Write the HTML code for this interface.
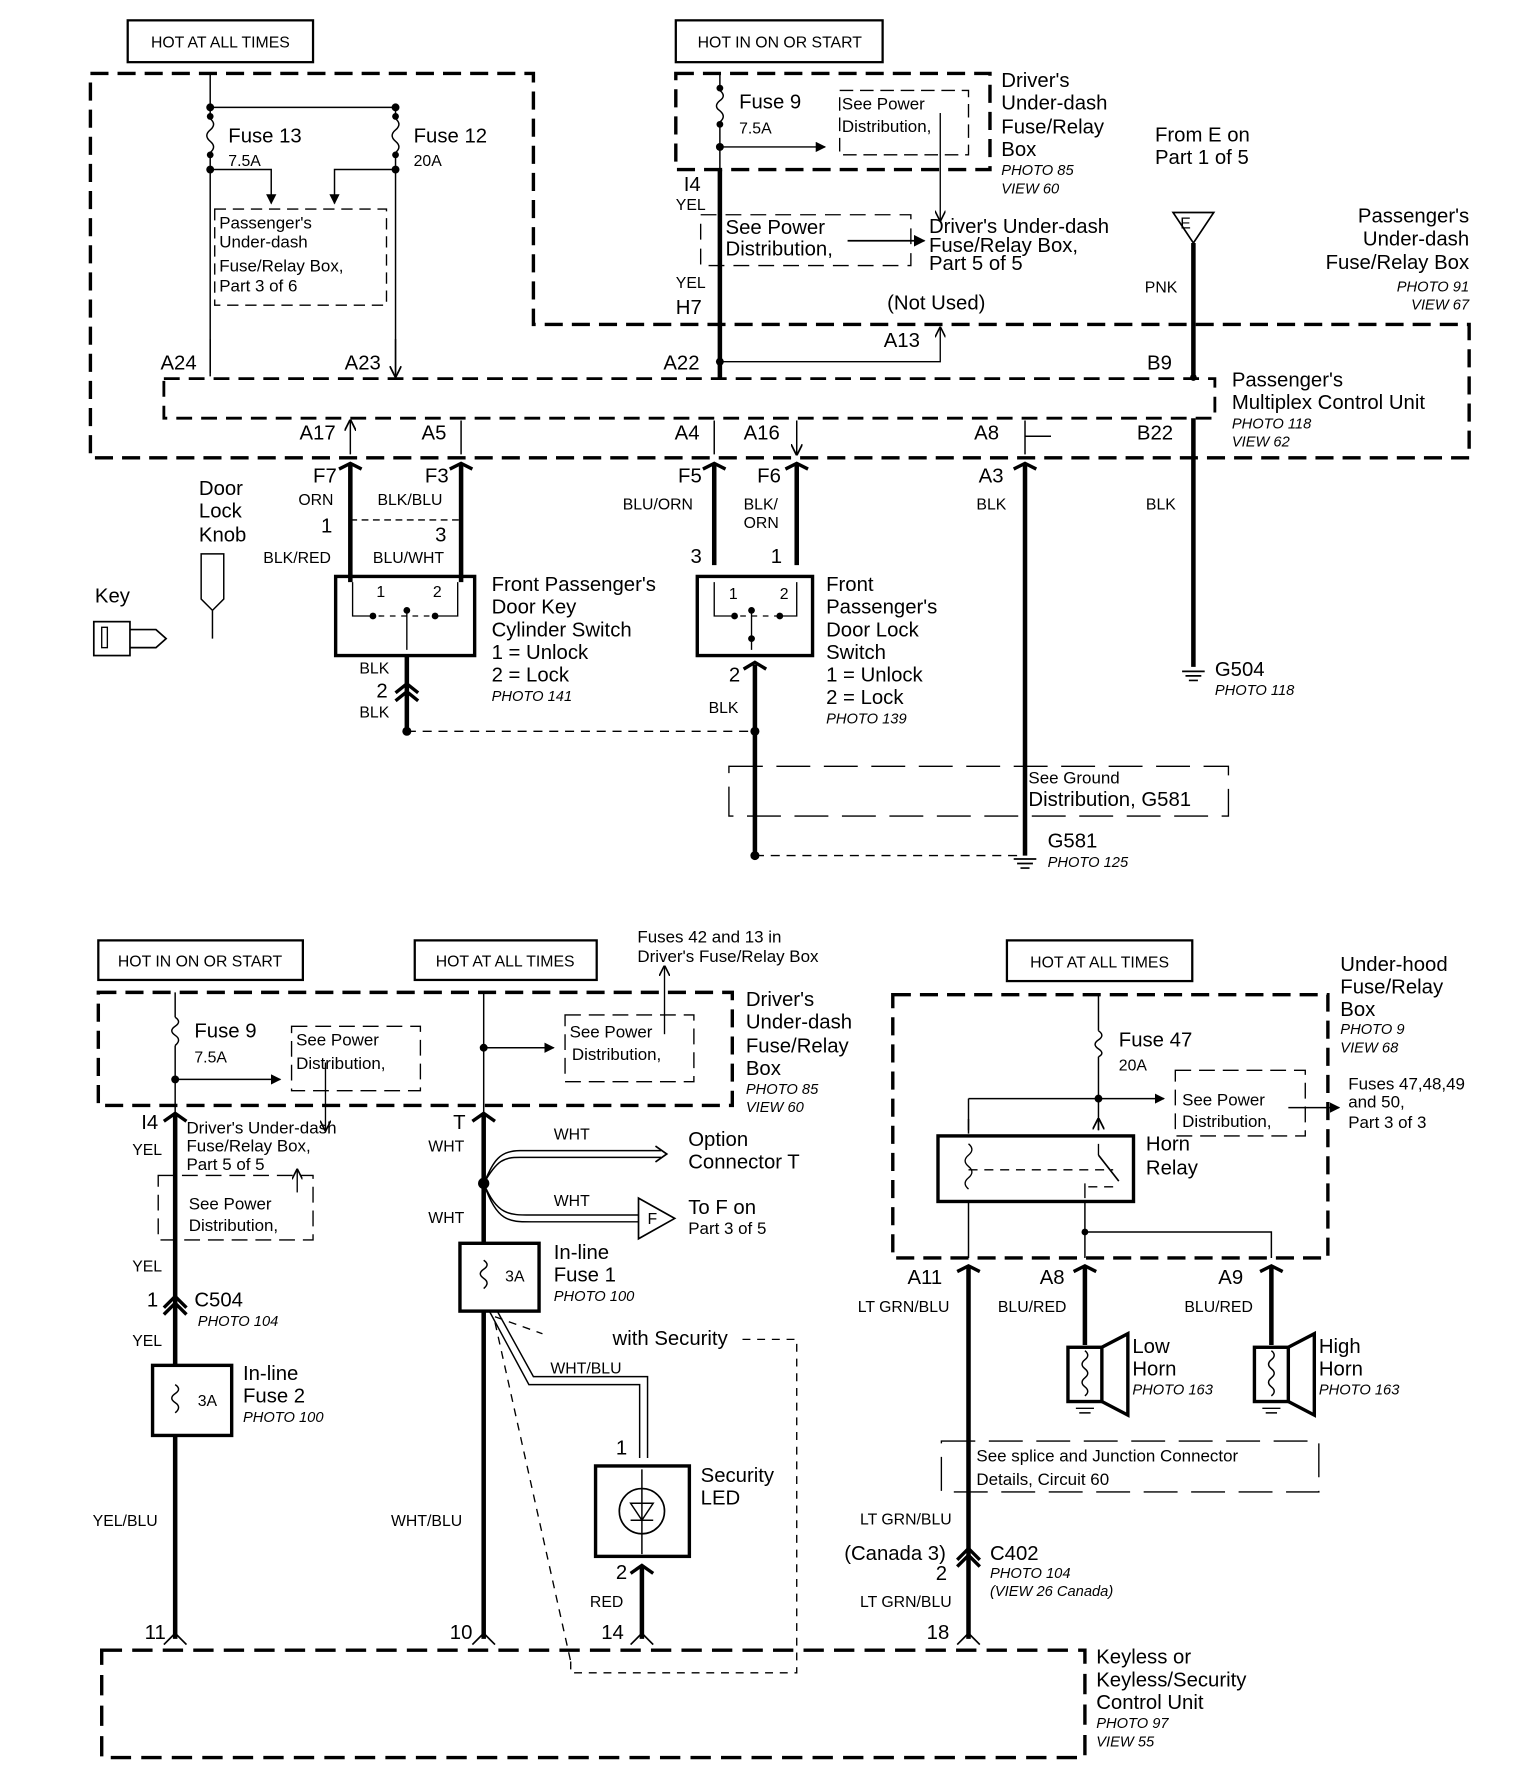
<!DOCTYPE html>
<html><head><meta charset="utf-8"><style>
html,body{margin:0;padding:0;background:#fff}
svg{display:block}
text{font-family:"Liberation Sans",sans-serif;fill:#000}
.b{font-size:18px}
.s{font-size:14px}
.p{font-size:13px;font-style:italic}
.m{font-size:15px}
</style></head><body>
<svg width="1520" height="1770" viewBox="0 0 1345 1566" preserveAspectRatio="none" xmlns="http://www.w3.org/2000/svg">
<defs>
<marker id="ah" viewBox="0 0 10 10" refX="9" refY="5" markerWidth="7" markerHeight="7" orient="auto"><path d="M0,0 L10,5 L0,10 z" fill="#000"/></marker>
<marker id="oa" viewBox="0 0 10 10" refX="9" refY="5" markerWidth="8" markerHeight="8" orient="auto-start-reverse"><path d="M0,0 L10,5 L0,10" fill="none" stroke="#000" stroke-width="1.5"/></marker>
</defs>
<g fill="none" stroke="#000">
<rect x="113" y="18" width="164" height="37" stroke-width="2"/>
<rect x="598" y="18" width="183" height="37" stroke-width="2"/>
<path d="M80,65 H472 V287 H1300 V405 H80 Z" stroke-width="3" stroke-dasharray="16,8"/>
<rect x="598" y="65" width="278" height="85" stroke-width="3" stroke-dasharray="16,8"/>
<path d="M186,65 V105 M186,135 V330 M350,95 V105 M350,135 V330 M186,95 H350" stroke-width="1.3"/>
<path d="M186,105 q6,5 0,10 q-6,5 0,10 q6,5 0,10 M350,105 q6,5 0,10 q-6,5 0,10 q6,5 0,10" stroke-width="1.3"/>
<path d="M186,150 H240 V180" stroke-width="1.3" marker-end="url(#ah)"/>
<path d="M350,150 H296 V180" stroke-width="1.3" marker-end="url(#ah)"/>
<rect x="190" y="185" width="152" height="85" stroke-width="1.2" stroke-dasharray="10,6"/>
<path d="M186,300 V333 M350,300 V333" stroke-width="1.3" marker-end="url(#oa)"/>
<path d="M637,65 V80 M637,108 V150" stroke-width="1.3"/>
<path d="M637,80 q6,5 0,9 q-6,5 0,9 q6,5 0,10" stroke-width="1.3"/>
<path d="M637,130 H730" stroke-width="1.3" marker-end="url(#ah)"/>
<rect x="743" y="80" width="114" height="57" stroke-width="1.2" stroke-dasharray="12,6"/>
<path d="M832,100 V195" stroke-width="1.2" marker-end="url(#oa)"/>
<path d="M637,150 V335" stroke-width="4"/>
<rect x="620" y="190" width="186" height="45" stroke-width="1.2" stroke-dasharray="14,8"/>
<path d="M750,213 H818" stroke-width="1.5" marker-end="url(#ah)"/>
<path d="M637,320 H832 V290" stroke-width="1.2" marker-end="url(#oa)"/>
<path d="M1038,188 H1074 L1056,215 Z" stroke-width="1.5"/>
<path d="M1056,215 V335" stroke-width="4"/>
<rect x="145" y="335" width="930" height="35" stroke-width="2.5" stroke-dasharray="14,8"/>
<path d="M310,372 V402 M408,372 V402 M632,372 V402 M705,372 V402" stroke-width="1.3" marker-start="url(#oa)" marker-end="url(#oa)"/>
<path d="M907,372 V402 M907,386 H930" stroke-width="1.3"/>
<path d="M310,410 V515 M408,410 V515 M632,410 V500 M705,410 V500 M907,410 V757 M1056,370 V590" stroke-width="4"/>
<path d="M300,415 L310,410 L320,415 M398,415 L408,410 L418,415 M622,415 L632,410 L642,415 M695,415 L705,410 L715,415 M897,415 L907,410 L917,415" stroke-width="3"/>
<path d="M310,460 H408" stroke-width="1.3" stroke-dasharray="6,4"/>
<rect x="297" y="510" width="123" height="70" stroke-width="3"/>
<path d="M312,515 V545 H330 M405,515 V545 H385 M360,540 V575" stroke-width="1.2"/>
<path d="M335,545 H385" stroke-width="1.2" stroke-dasharray="5,5"/>
<path d="M360,580 V645" stroke-width="4"/>
<path d="M350,613 L360,605 L370,613 M350,620 L360,612 L370,620" stroke-width="3"/>
<path d="M360,647 H668" stroke-width="1.2" stroke-dasharray="8,6"/>
<rect x="617" y="510" width="102" height="70" stroke-width="3"/>
<path d="M632,515 V545 H650 M705,515 V545 H690 M665,540 V575" stroke-width="1.2"/>
<path d="M655,545 H690" stroke-width="1.2" stroke-dasharray="5,5"/>
<path d="M668,588 V757" stroke-width="4"/>
<path d="M658,592 L668,586 L678,592" stroke-width="3"/>
<path d="M668,757 H900" stroke-width="1.2" stroke-dasharray="8,6"/>
<rect x="645" y="678" width="442" height="44" stroke-width="1.2" stroke-dasharray="30,12"/>
<path d="M897,760 H917 M900,764 H914 M903,768 H911 M1046,594 H1066 M1049,598 H1063 M1052,602 H1060" stroke-width="1.5"/>
<rect x="83" y="550" width="32" height="30" stroke-width="1.5"/>
<rect x="90" y="555" width="5" height="18" stroke-width="1.2"/>
<path d="M115,557 H138 L147,565 L138,573 H115" stroke-width="1.5"/>
<path d="M178,490 V530 L188,540 L198,530 V490 Z M188,540 V565" stroke-width="1.3"/>
<rect x="87" y="832" width="181" height="35" stroke-width="2"/>
<rect x="367" y="832" width="161" height="35" stroke-width="2"/>
<rect x="87" y="878" width="561" height="100" stroke-width="3" stroke-dasharray="16,8"/>
<path d="M155,878 V900 M155,925 V985" stroke-width="1.3"/>
<path d="M155,900 q6,4 0,8 q-6,4 0,8 q6,4 0,9" stroke-width="1.3"/>
<path d="M155,955 H248" stroke-width="1.3" marker-end="url(#ah)"/>
<rect x="258" y="908" width="114" height="57" stroke-width="1.2" stroke-dasharray="14,7"/>
<path d="M288,940 V1000" stroke-width="1.2" marker-end="url(#oa)"/>
<path d="M428,878 V985" stroke-width="1.3"/>
<path d="M428,927 H490" stroke-width="1.3" marker-end="url(#ah)"/>
<rect x="500" y="898" width="114" height="59" stroke-width="1.2" stroke-dasharray="14,7"/>
<path d="M588,915 V855" stroke-width="1.2" marker-end="url(#oa)"/>
<path d="M155,985 V1450 M428,985 V1450" stroke-width="4"/>
<path d="M145,992 L155,985 L165,992 M418,992 L428,985 L438,992" stroke-width="3"/>
<rect x="140" y="1040" width="137" height="57" stroke-width="1.2" stroke-dasharray="14,7"/>
<path d="M263,1055 V1035" stroke-width="1.2" marker-end="url(#oa)"/>
<path d="M145,1157 L155,1147 L165,1157 M145,1163 L155,1153 L165,1163" stroke-width="3"/>
<rect x="135" y="1208" width="70" height="62" stroke-width="3" fill="#fff"/>
<path d="M155,1225 q6,4 0,8 q-6,4 0,8 q6,4 0,9" stroke-width="1.3"/>
<path d="M428,1047 C436,1030 440,1018 460,1018 H585 M428,1047 C440,1026 446,1024 460,1024 H585" stroke-width="1.3"/>
<path d="M580,1014 L590,1021 L580,1028" stroke-width="1.5"/>
<path d="M428,1047 C440,1075 450,1075 470,1075 H565 M428,1047 C440,1081 450,1081 470,1081 H565" stroke-width="1.3"/>
<path d="M565,1060 L597,1078 L565,1096 Z" stroke-width="1.5" fill="#fff"/>
<rect x="407" y="1100" width="70" height="60" stroke-width="3" fill="#fff"/>
<path d="M428,1115 q6,4 0,8 q-6,4 0,8 q6,4 0,9" stroke-width="1.3"/>
<path d="M433,1160 L468,1225 H566 V1290 M440,1160 L472,1218 H573 V1290" stroke-width="1.3"/>
<path d="M438,1165 L480,1180 M438,1170 L505,1470 M540,1185 H705 V1480 H505 V1470" stroke-width="1.2" stroke-dasharray="7,6"/>
<rect x="527" y="1297" width="83" height="80" stroke-width="3" fill="#fff"/>
<circle cx="568" cy="1337" r="20" stroke-width="1.5"/>
<path d="M568,1300 V1375 M558,1330 H578 L568,1345 Z M558,1345 H578" stroke-width="1.3"/>
<path d="M568,1385 V1450" stroke-width="4"/>
<path d="M558,1392 L568,1385 L578,1392" stroke-width="3"/>
<path d="M145,1455 L155,1445 L165,1455 M418,1455 L428,1445 L438,1455 M558,1455 L568,1445 L578,1455 M847,1455 L857,1445 L867,1455" stroke-width="1.5"/>
<rect x="90" y="1460" width="870" height="95" stroke-width="3" stroke-dasharray="18,9"/>
<rect x="891" y="832" width="164" height="36" stroke-width="2"/>
<rect x="790" y="880" width="385" height="233" stroke-width="3" stroke-dasharray="16,8"/>
<path d="M972,880 V912 M972,935 V1000 M857,972 V1003" stroke-width="1.3"/>
<path d="M972,912 q6,4 0,8 q-6,4 0,8 q6,4 0,7" stroke-width="1.3"/>
<path d="M857,972 H1030" stroke-width="1.3" marker-end="url(#ah)"/>
<path d="M857,1000 V990 M972,1000 V990" stroke-width="1.3" marker-end="url(#oa)"/>
<rect x="1040" y="947" width="115" height="58" stroke-width="1.2" stroke-dasharray="14,7"/>
<path d="M1140,980 H1185" stroke-width="1.3" marker-end="url(#ah)"/>
<rect x="830" y="1005" width="173" height="58" stroke-width="3"/>
<path d="M857,1012 q6,5 0,10 q-6,5 0,10 q6,5 0,10 q-6,5 0,10 M972,1012 V1022 M960,1047 V1060" stroke-width="1.2"/>
<path d="M857,1035 H985 M985,1050 H960" stroke-width="1.2" stroke-dasharray="8,6"/>
<path d="M972,1022 L990,1045" stroke-width="1.5"/>
<path d="M857,1063 V1113 M960,1063 V1113 M960,1090 H1125 V1113" stroke-width="1.3"/>
<path d="M857,1120 V1450 M960,1120 V1190 M1125,1120 V1190" stroke-width="4"/>
<path d="M847,1125 L857,1120 L867,1125 M950,1125 L960,1120 L970,1125 M1115,1125 L1125,1120 L1135,1125" stroke-width="3"/>
<rect x="945" y="1192" width="30" height="48" stroke-width="3"/>
<path d="M975,1192 L998,1180 V1252 L975,1240" stroke-width="3"/>
<path d="M960,1195 q5,4 0,8 q-5,4 0,8 q5,4 0,8 q-5,4 0,8 q5,4 0,8 M952,1246 H968 M955,1250 H965" stroke-width="1.3"/>
<rect x="1110" y="1192" width="30" height="48" stroke-width="3"/>
<path d="M1140,1192 L1163,1180 V1252 L1140,1240" stroke-width="3"/>
<path d="M1125,1195 q5,4 0,8 q-5,4 0,8 q5,4 0,8 q-5,4 0,8 q5,4 0,8 M1117,1246 H1133 M1120,1250 H1130" stroke-width="1.3"/>
<rect x="833" y="1275" width="334" height="45" stroke-width="1.2" stroke-dasharray="30,12"/>
<path d="M847,1380 L857,1370 L867,1380 M847,1386 L857,1376 L867,1386" stroke-width="3"/>
</g>
<g fill="#000">
<circle cx="186" cy="95" r="3.5"/><circle cx="350" cy="95" r="3.5"/><circle cx="186" cy="103" r="3"/><circle cx="186" cy="137" r="3"/><circle cx="350" cy="103" r="3"/><circle cx="350" cy="137" r="3"/><circle cx="186" cy="150" r="3.5"/><circle cx="350" cy="150" r="3.5"/>
<circle cx="637" cy="78" r="3"/><circle cx="637" cy="110" r="3"/><circle cx="637" cy="130" r="3.5"/><circle cx="637" cy="320" r="3.5"/>
<circle cx="330" cy="545" r="3"/><circle cx="385" cy="545" r="3"/><circle cx="360" cy="540" r="3"/>
<circle cx="650" cy="545" r="3"/><circle cx="690" cy="545" r="3"/><circle cx="665" cy="540" r="3"/><circle cx="665" cy="565" r="3"/>
<circle cx="360" cy="647" r="4"/><circle cx="668" cy="647" r="4"/><circle cx="668" cy="757" r="4"/>
<circle cx="155" cy="955" r="3.5"/><circle cx="428" cy="927" r="3.5"/><circle cx="428" cy="1047" r="5"/>
<circle cx="972" cy="972" r="3.5"/><circle cx="960" cy="1090" r="3"/><circle cx="1056" cy="334" r="3"/>
</g>
<text x="195" y="42" class="s" text-anchor="middle">HOT AT ALL TIMES</text>
<text x="690" y="42" class="s" text-anchor="middle">HOT IN ON OR START</text>
<text x="202" y="126" class="b">Fuse 13</text><text x="202" y="147" class="s">7.5A</text>
<text x="366" y="126" class="b">Fuse 12</text><text x="366" y="147" class="s">20A</text>
<text x="194" y="202" class="m">Passenger's</text><text x="194" y="219" class="m">Under-dash</text><text x="194" y="240" class="m">Fuse/Relay Box,</text><text x="194" y="258" class="m">Part 3 of 6</text>
<text x="654" y="96" class="b">Fuse 9</text><text x="654" y="118" class="s">7.5A</text>
<text x="745" y="97" class="m">See Power</text><text x="745" y="117" class="m">Distribution,</text>
<text x="886" y="77" class="b">Driver's</text><text x="886" y="97" class="b">Under-dash</text><text x="886" y="118" class="b">Fuse/Relay</text><text x="886" y="138" class="b">Box</text>
<text x="886" y="155" class="p">PHOTO 85</text><text x="886" y="171" class="p">VIEW 60</text>
<text x="1022" y="125" class="b">From E on</text><text x="1022" y="145" class="b">Part 1 of 5</text>
<text x="1300" y="197" class="b" text-anchor="end">Passenger's</text><text x="1300" y="217" class="b" text-anchor="end">Under-dash</text><text x="1300" y="238" class="b" text-anchor="end">Fuse/Relay Box</text>
<text x="1300" y="258" class="p" text-anchor="end">PHOTO 91</text><text x="1300" y="274" class="p" text-anchor="end">VIEW 67</text>
<text x="1049" y="202" class="s" text-anchor="middle">E</text>
<text x="1013" y="259" class="s">PNK</text>
<text x="605" y="169" class="b">I4</text><text x="598" y="186" class="s">YEL</text>
<text x="642" y="207" class="b">See Power</text><text x="642" y="226" class="b">Distribution,</text>
<text x="822" y="206" class="b">Driver's Under-dash</text><text x="822" y="223" class="b">Fuse/Relay Box,</text><text x="822" y="239" class="b">Part 5 of 5</text>
<text x="598" y="255" class="s">YEL</text><text x="598" y="278" class="b">H7</text>
<text x="785" y="274" class="b">(Not Used)</text>
<text x="782" y="307" class="b">A13</text>
<text x="142" y="327" class="b">A24</text><text x="305" y="327" class="b">A23</text><text x="587" y="327" class="b">A22</text><text x="1015" y="327" class="b">B9</text>
<text x="1090" y="342" class="b">Passenger's</text><text x="1090" y="362" class="b">Multiplex Control Unit</text>
<text x="1090" y="379" class="p">PHOTO 118</text><text x="1090" y="395" class="p">VIEW 62</text>
<text x="265" y="389" class="b">A17</text><text x="373" y="389" class="b">A5</text><text x="597" y="389" class="b">A4</text><text x="658" y="389" class="b">A16</text><text x="862" y="389" class="b">A8</text><text x="1006" y="389" class="b">B22</text>
<text x="277" y="427" class="b">F7</text><text x="376" y="427" class="b">F3</text><text x="600" y="427" class="b">F5</text><text x="670" y="427" class="b">F6</text><text x="866" y="427" class="b">A3</text>
<text x="264" y="447" class="s">ORN</text><text x="334" y="447" class="s">BLK/BLU</text><text x="551" y="451" class="s">BLU/ORN</text><text x="658" y="451" class="s">BLK/</text><text x="658" y="467" class="s">ORN</text>
<text x="864" y="451" class="s">BLK</text><text x="1014" y="451" class="s">BLK</text>
<text x="176" y="438" class="b">Door</text><text x="176" y="458" class="b">Lock</text><text x="176" y="479" class="b">Knob</text>
<text x="84" y="533" class="b">Key</text>
<text x="284" y="471" class="b">1</text><text x="385" y="479" class="b">3</text>
<text x="233" y="498" class="s">BLK/RED</text><text x="330" y="498" class="s">BLU/WHT</text>
<text x="611" y="498" class="b">3</text><text x="682" y="498" class="b">1</text>
<text x="333" y="528" class="s">1</text><text x="383" y="528" class="s">2</text><text x="645" y="530" class="s">1</text><text x="690" y="530" class="s">2</text>
<text x="435" y="523" class="b">Front Passenger's</text><text x="435" y="543" class="b">Door Key</text><text x="435" y="563" class="b">Cylinder Switch</text><text x="435" y="583" class="b">1 = Unlock</text><text x="435" y="603" class="b">2 = Lock</text><text x="435" y="620" class="p">PHOTO 141</text>
<text x="731" y="523" class="b">Front</text><text x="731" y="543" class="b">Passenger's</text><text x="731" y="563" class="b">Door Lock</text><text x="731" y="583" class="b">Switch</text><text x="731" y="603" class="b">1 = Unlock</text><text x="731" y="623" class="b">2 = Lock</text><text x="731" y="640" class="p">PHOTO 139</text>
<text x="318" y="596" class="s">BLK</text><text x="333" y="617" class="b">2</text><text x="318" y="635" class="s">BLK</text>
<text x="645" y="603" class="b">2</text><text x="627" y="631" class="s">BLK</text>
<text x="1075" y="598" class="b">G504</text><text x="1075" y="615" class="p">PHOTO 118</text>
<text x="910" y="693" class="m">See Ground</text><text x="910" y="713" class="b">Distribution, G581</text>
<text x="927" y="750" class="b">G581</text><text x="927" y="767" class="p">PHOTO 125</text>
<text x="177" y="855" class="s" text-anchor="middle">HOT IN ON OR START</text>
<text x="447" y="855" class="s" text-anchor="middle">HOT AT ALL TIMES</text>
<text x="564" y="834" class="m">Fuses 42 and 13 in</text><text x="564" y="851" class="m">Driver's Fuse/Relay Box</text>
<text x="172" y="918" class="b">Fuse 9</text><text x="172" y="940" class="s">7.5A</text>
<text x="262" y="925" class="m">See Power</text><text x="262" y="946" class="m">Distribution,</text>
<text x="504" y="918" class="m">See Power</text><text x="506" y="938" class="m">Distribution,</text>
<text x="660" y="890" class="b">Driver's</text><text x="660" y="910" class="b">Under-dash</text><text x="660" y="931" class="b">Fuse/Relay</text><text x="660" y="951" class="b">Box</text><text x="660" y="968" class="p">PHOTO 85</text><text x="660" y="984" class="p">VIEW 60</text>
<text x="125" y="999" class="b">I4</text><text x="117" y="1022" class="s">YEL</text>
<text x="165" y="1003" class="m">Driver's Under-dash</text><text x="165" y="1019" class="m">Fuse/Relay Box,</text><text x="165" y="1035" class="m">Part 5 of 5</text>
<text x="167" y="1070" class="m">See Power</text><text x="167" y="1089" class="m">Distribution,</text>
<text x="117" y="1125" class="s">YEL</text>
<text x="130" y="1156" class="b">1</text><text x="172" y="1156" class="b">C504</text><text x="175" y="1173" class="p">PHOTO 104</text>
<text x="117" y="1191" class="s">YEL</text>
<text x="175" y="1244" class="s">3A</text>
<text x="215" y="1221" class="b">In-line</text><text x="215" y="1241" class="b">Fuse 2</text><text x="215" y="1258" class="p">PHOTO 100</text>
<text x="82" y="1350" class="s">YEL/BLU</text>
<text x="401" y="999" class="b">T</text><text x="379" y="1019" class="s">WHT</text><text x="379" y="1082" class="s">WHT</text>
<text x="490" y="1008" class="s">WHT</text><text x="490" y="1067" class="s">WHT</text>
<text x="573" y="1083" class="s">F</text>
<text x="609" y="1014" class="b">Option</text><text x="609" y="1034" class="b">Connector T</text>
<text x="609" y="1074" class="b">To F on</text><text x="609" y="1092" class="m">Part 3 of 5</text>
<text x="447" y="1134" class="s">3A</text>
<text x="490" y="1114" class="b">In-line</text><text x="490" y="1134" class="b">Fuse 1</text><text x="490" y="1151" class="p">PHOTO 100</text>
<rect x="538" y="1174" width="118" height="20" fill="#fff"/>
<text x="542" y="1190" class="b">with Security</text>
<text x="487" y="1215" class="s">WHT/BLU</text>
<text x="545" y="1287" class="b">1</text>
<text x="620" y="1311" class="b">Security</text><text x="620" y="1331" class="b">LED</text>
<text x="545" y="1397" class="b">2</text><text x="522" y="1422" class="s">RED</text>
<text x="346" y="1350" class="s">WHT/BLU</text>
<text x="128" y="1450" class="b">11</text><text x="398" y="1450" class="b">10</text><text x="532" y="1450" class="b">14</text><text x="820" y="1450" class="b">18</text>
<text x="970" y="1472" class="b">Keyless or</text><text x="970" y="1492" class="b">Keyless/Security</text><text x="970" y="1512" class="b">Control Unit</text><text x="970" y="1529" class="p">PHOTO 97</text><text x="970" y="1545" class="p">VIEW 55</text>
<text x="973" y="856" class="s" text-anchor="middle">HOT AT ALL TIMES</text>
<text x="1186" y="859" class="b">Under-hood</text><text x="1186" y="879" class="b">Fuse/Relay</text><text x="1186" y="899" class="b">Box</text><text x="1186" y="915" class="p">PHOTO 9</text><text x="1186" y="931" class="p">VIEW 68</text>
<text x="990" y="926" class="b">Fuse 47</text><text x="990" y="947" class="s">20A</text>
<text x="1046" y="978" class="m">See Power</text><text x="1046" y="997" class="m">Distribution,</text>
<text x="1193" y="964" class="m">Fuses 47,48,49</text><text x="1193" y="980" class="m">and 50,</text><text x="1193" y="998" class="m">Part 3 of 3</text>
<text x="1014" y="1018" class="b">Horn</text><text x="1014" y="1039" class="b">Relay</text>
<text x="803" y="1136" class="b">A11</text><text x="920" y="1136" class="b">A8</text><text x="1078" y="1136" class="b">A9</text>
<text x="759" y="1161" class="s">LT GRN/BLU</text><text x="883" y="1161" class="s">BLU/RED</text><text x="1048" y="1161" class="s">BLU/RED</text>
<text x="1002" y="1197" class="b">Low</text><text x="1002" y="1217" class="b">Horn</text><text x="1002" y="1234" class="p">PHOTO 163</text>
<text x="1167" y="1197" class="b">High</text><text x="1167" y="1217" class="b">Horn</text><text x="1167" y="1234" class="p">PHOTO 163</text>
<text x="864" y="1293" class="m">See splice and Junction Connector</text><text x="864" y="1314" class="m">Details, Circuit 60</text>
<text x="761" y="1349" class="s">LT GRN/BLU</text>
<text x="747" y="1380" class="b">(Canada 3)</text><text x="828" y="1398" class="b">2</text>
<text x="876" y="1380" class="b">C402</text><text x="876" y="1396" class="p">PHOTO 104</text><text x="876" y="1412" class="p">(VIEW 26 Canada)</text>
<text x="761" y="1422" class="s">LT GRN/BLU</text>
</svg>
</body></html>
